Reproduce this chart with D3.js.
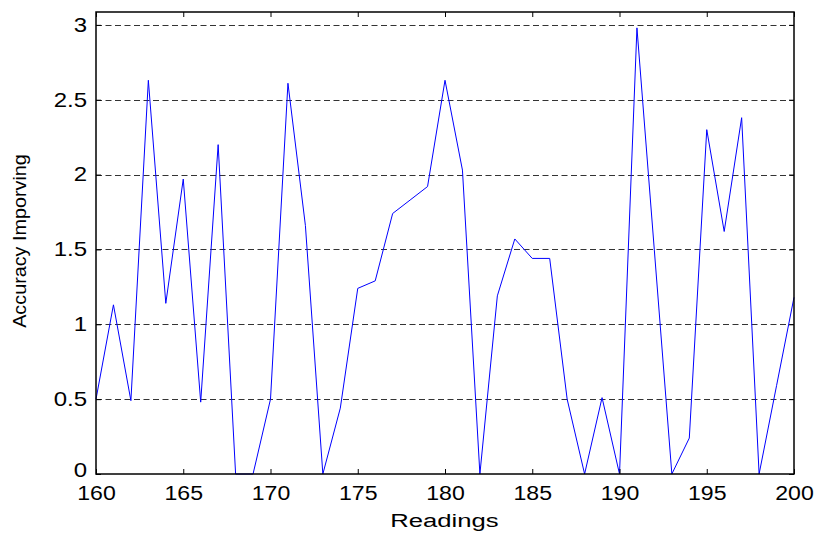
<!DOCTYPE html>
<html>
<head>
<meta charset="utf-8">
<script src="https://cdn.jsdelivr.net/npm/d3@7"></script>
<style>
  body { margin: 0; background: #fff; }
  text { font-family: "Liberation Sans", Arial, sans-serif; fill: #000; }
</style>
</head>
<body>
<div id="chart"></div>
<script>
// Readings along the x axis
var readings = d3.range(160, 201);

// Accuracy improving values, one per reading
var accuracy = [
  0.50, 1.13, 0.49, 2.63, 1.14, 1.97, 0.48, 2.20, 0.00, 0.00,
  0.50, 2.61, 1.66, 0.00, 0.44, 1.24, 1.29, 1.74, 1.83, 1.92,
  2.63, 2.03, 0.00, 1.19, 1.57, 1.44, 1.44, 0.50, 0.00, 0.51,
  0.00, 2.98, 1.49, 0.00, 0.24, 2.30, 1.62, 2.38, 0.00, 0.59,
  1.18
];

var xTicks = [160, 165, 170, 175, 180, 185, 190, 195, 200];
var yTicks = [0, 0.5, 1, 1.5, 2, 2.5, 3];

var width = 815, height = 533;
var margin = { top: 12, right: 21, bottom: 59, left: 96 };
var innerW = width - margin.left - margin.right;
var innerH = height - margin.top - margin.bottom;

var svg = d3.select("#chart").append("svg")
  .attr("width", width)
  .attr("height", height);

var g = svg.append("g")
  .attr("transform", `translate(${margin.left},${margin.top})`);

var x = d3.scaleLinear().domain([160, 200]).range([0, innerW]);
var y = d3.scaleLinear().domain([0, 3.086]).range([innerH, 0]);

// Dashed horizontal grid
g.append("g")
  .selectAll("line")
  .data(yTicks.filter(d => d > 0))
  .join("line")
  .attr("x1", 0)
  .attr("x2", innerW)
  .attr("y1", d => Math.round(y(d)) + 0.5)
  .attr("y2", d => Math.round(y(d)) + 0.5)
  .attr("stroke", "#000")
  .attr("stroke-opacity", 0.8)
  .attr("stroke-dasharray", "6,3.5");

// The data line
var line = d3.line()
  .x((d, i) => x(readings[i]))
  .y(d => y(d));

g.append("path")
  .datum(accuracy)
  .attr("fill", "none")
  .attr("stroke", "#0000ff")
  .attr("stroke-width", 1)
  .attr("d", line);

// Axes with inward ticks on all four sides
var tickLen = 5;
var bottomAxis = d3.axisBottom(x).tickValues(xTicks).tickSize(-tickLen).tickPadding(11);
var topAxis = d3.axisTop(x).tickValues(xTicks).tickSize(-tickLen).tickFormat("");
var leftAxis = d3.axisLeft(y).tickValues(yTicks).tickSize(-tickLen).tickPadding(9)
  .tickFormat(d => String(d));
var rightAxis = d3.axisRight(y).tickValues(yTicks).tickSize(-tickLen).tickFormat("");

function styleAxis(sel) {
  sel.attr("font-size", null).attr("font-family", null);
  sel.select(".domain").remove();
  sel.selectAll("line").attr("stroke", "#000");
  sel.selectAll("text").attr("fill", "#000");
}

// The reference glyphs are a little wider than Liberation Sans, so stretch them
var xsx = 1.1, ysx = 1.2;

g.append("g").attr("transform", `translate(0,${innerH})`).call(bottomAxis).call(styleAxis)
  .selectAll(".tick text")
  .attr("font-size", 21)
  .attr("transform", `scale(${xsx},1)`);

var leftG = g.append("g").call(leftAxis).call(styleAxis);
leftG.selectAll(".tick text")
  .attr("font-size", 20)
  .attr("x", -9 / ysx)
  .attr("transform", `scale(${ysx},1)`);
leftG.selectAll(".tick text").filter(d => d === 0).attr("dy", "0.12em");

g.append("g").call(topAxis).call(styleAxis);
g.append("g").attr("transform", `translate(${innerW},0)`).call(rightAxis).call(styleAxis);

// Box around the plot
g.append("rect")
  .attr("x", 0).attr("y", 0)
  .attr("width", innerW).attr("height", innerH)
  .attr("fill", "none")
  .attr("stroke", "#000")
  .attr("stroke-width", 1.5);

// Axis titles
svg.append("text")
  .attr("transform", "translate(444.5,527) scale(1.35,1)")
  .attr("text-anchor", "middle")
  .attr("font-size", 19)
  .text("Readings");

svg.append("text")
  .attr("transform", "translate(26,241) rotate(-90) scale(1.1,1)")
  .attr("text-anchor", "middle")
  .attr("font-size", 18)
  .text("Accuracy Imporving");
</script>
</body>
</html>
